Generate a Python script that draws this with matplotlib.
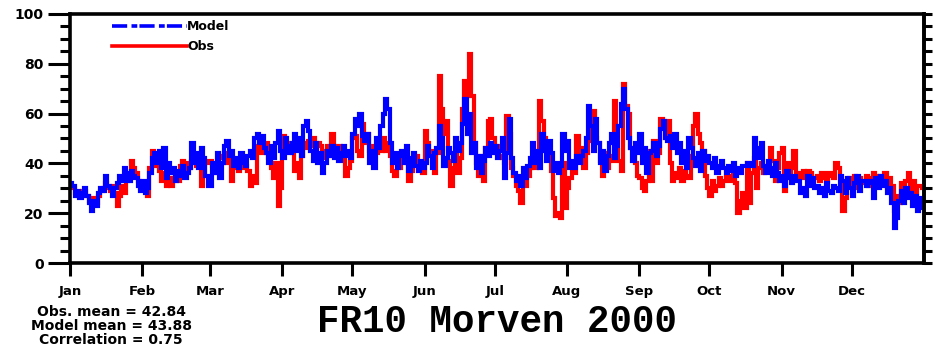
import numpy as np
import matplotlib
matplotlib.use("Agg")
import matplotlib.pyplot as plt
from matplotlib.lines import Line2D

# daily values for 2000 (leap year), one list per month
month_names = ["Jan", "Feb", "Mar", "Apr", "May", "Jun",
               "Jul", "Aug", "Sep", "Oct", "Nov", "Dec"]
month_days = [31, 29, 31, 30, 31, 30, 31, 31, 30, 31, 30, 31]

model = [
    # Jan
    32, 31, 27, 29, 26, 28, 30, 27, 24, 21, 25, 23, 28, 30, 29, 35, 31, 30, 27, 30,
    32, 35, 33, 38, 36, 33, 37, 35, 34, 31, 29,
    # Feb
    33, 28, 30, 36, 42, 44, 40, 45, 38, 46, 34, 40, 36, 38, 33, 37, 35, 39, 34, 36,
    38, 48, 40, 44, 38, 46, 42, 35, 31,
    # Mar
    31, 40, 36, 44, 34, 40, 47, 49, 43, 45, 39, 42, 38, 44, 40, 39, 43, 45, 42, 50,
    52, 48, 51, 46, 44, 40, 47, 42, 48, 53, 45,
    # Apr
    42, 50, 47, 44, 48, 52, 45, 50, 43, 55, 57, 53, 45, 41, 48, 40, 44, 36, 40, 45,
    43, 47, 42, 46, 41, 44, 47, 43, 45, 42,
    # May
    52, 58, 55, 60, 51, 49, 52, 40, 45, 38, 50, 46, 55, 60, 66, 62, 48, 40, 44, 38,
    43, 45, 40, 47, 37, 42, 44, 39, 37, 41, 38,
    # Jun
    40, 47, 43, 38, 44, 46, 55, 50, 39, 42, 46, 44, 41, 50, 45, 48, 56, 66, 52, 60,
    44, 48, 38, 43, 36, 41, 46, 43, 48, 44,
    # Jul
    47, 42, 45, 50, 34, 44, 58, 42, 36, 33, 35, 31, 38, 34, 39, 42, 48, 40, 45, 38,
    52, 45, 41, 49, 44, 37, 40, 36, 39, 52, 45,
    # Aug
    49, 38, 41, 38, 43, 40, 43, 45, 50, 63, 55, 45, 58, 48, 40, 45, 37, 43, 48, 52,
    42, 47, 55, 64, 70, 62, 50, 46, 41, 48, 44,
    # Sep
    52, 40, 46, 36, 44, 45, 48, 43, 47, 54, 57, 50, 49, 51, 46, 52, 44, 48, 40, 45,
    38, 50, 46, 42, 39, 44, 37, 45, 41, 43,
    # Oct
    40, 38, 42, 36, 39, 41, 38, 36, 39, 37, 40, 35, 38, 36, 39, 39, 40, 40, 39, 50,
    46, 42, 48, 39, 36, 41, 38, 35, 40, 36, 33,
    # Nov
    35, 31, 37, 34, 32, 35, 33, 33, 28, 30, 27, 35, 31, 34, 30, 31, 28, 30, 27, 32,
    29, 28, 31, 30, 29, 35, 33, 28, 34, 30,
    # Dec
    27, 32, 35, 29, 33, 33, 31, 32, 33, 26, 34, 30, 35, 31, 33, 28, 30, 24, 14, 18,
    25, 29, 24, 30, 26, 28, 23, 27, 21, 26, 22,
]

obs = [
    # Jan
    31, 30, 28, 28, 27, 29, 29, 27, 25, 24, 26, 24, 27, 29, 30, 32, 30, 29, 31, 28,
    23, 27, 31, 28, 33, 35, 41, 38, 36, 33, 30,
    # Feb
    31, 30, 27, 38, 45, 41, 39, 37, 33, 36, 31, 34, 31, 34, 35, 33, 39, 41, 36, 40,
    38, 41, 40, 39, 41, 31, 35, 40, 41,
    # Mar
    41, 39, 36, 40, 42, 43, 44, 40, 42, 33, 38, 41, 37, 40, 38, 39, 37, 31, 35, 32,
    47, 49, 44, 46, 48, 42, 38, 34, 40, 23, 30,
    # Apr
    51, 47, 45, 48, 44, 37, 40, 34, 43, 46, 48, 49, 47, 50, 46, 48, 47, 42, 45, 47,
    43, 52, 44, 46, 47, 44, 42, 35, 38, 41,
    # May
    50, 51, 45, 43, 56, 48, 52, 45, 44, 47, 44, 46, 45, 50, 45, 48, 43, 37, 35, 41,
    38, 42, 44, 40, 33, 37, 40, 43, 38, 39, 36,
    # Jun
    53, 48, 45, 41, 36, 44, 75, 62, 52, 57, 41, 31, 38, 44, 36, 42, 62, 73, 67, 84,
    67, 48, 40, 35, 43, 33, 46, 57, 58, 50,
    # Jul
    44, 47, 43, 42, 40, 59, 52, 38, 35, 31, 29, 24, 34, 31, 35, 38, 40, 38, 45, 65,
    57, 50, 46, 44, 37, 26, 19, 20, 18, 40, 22,
    # Aug
    30, 34, 37, 36, 51, 42, 46, 38, 44, 49, 55, 61, 50, 48, 41, 35, 44, 38, 43, 41,
    65, 55, 41, 37, 72, 63, 60, 46, 46, 40, 35,
    # Sep
    34, 30, 29, 33, 45, 33, 49, 40, 44, 58, 55, 50, 57, 40, 33, 36, 34, 38, 33, 37,
    35, 34, 43, 55, 60, 52, 48, 45, 35, 30,
    # Oct
    27, 33, 29, 31, 34, 31, 33, 37, 35, 33, 36, 32, 20, 25, 28, 22, 40, 24, 36, 42,
    30, 38, 40, 36, 39, 37, 46, 41, 33, 38, 44,
    # Nov
    46, 29, 40, 34, 38, 45, 35, 36, 34, 37, 35, 37, 36, 33, 34, 35, 33, 36, 34, 33,
    36, 35, 34, 40, 38, 34, 21, 26, 33, 34,
    # Dec
    31, 35, 30, 34, 32, 33, 35, 31, 34, 36, 35, 33, 35, 32, 36, 30, 34, 31, 21, 27,
    24, 32, 30, 33, 36, 29, 33, 28, 31, 31, 30,
]

stats_lines = ["Obs. mean = 42.84", "Model mean = 43.88", "Correlation = 0.75"]
title = "FR10 Morven 2000"

n_days = sum(month_days)
day = np.arange(n_days) + 0.5
month_starts = np.concatenate([[0], np.cumsum(month_days)[:-1]])

fig = plt.figure(figsize=(9.35, 3.57), dpi=100)
ax = fig.add_axes([0.0749, 0.2633, 0.9134, 0.6975])

ax.plot(day, obs, color="#ff0000", lw=3.0, drawstyle="steps-mid", solid_joinstyle="miter")
ax.plot(day, model, color="#0000ff", lw=3.0, drawstyle="steps-mid", solid_joinstyle="miter")

ax.set_xlim(0, n_days)
ax.set_ylim(0, 100)

ax.set_xticks(month_starts)
ax.set_xticklabels(month_names, fontsize=9.5, fontweight="bold")
ax.set_yticks(np.arange(0, 101, 20))
ax.set_yticklabels([str(v) for v in range(0, 101, 20)], fontsize=10, fontweight="bold")
ax.set_yticks(np.arange(0, 101, 5), minor=True)

ax.tick_params(axis="x", direction="out", length=9, width=2.2, pad=7, top=False)
ax.tick_params(axis="y", which="major", direction="out", length=16, width=2.2, pad=3)
ax.tick_params(axis="y", which="minor", direction="out", length=7, width=2.2)

sec = ax.secondary_yaxis("right")
sec.set_yticks(np.arange(0, 101, 5))
sec.set_yticklabels([])
sec.tick_params(direction="out", length=6, width=2.2)
sec.spines["right"].set_linewidth(2.6)

for s in ax.spines.values():
    s.set_linewidth(2.6)

handles = [Line2D([], [], color="#0000ff", lw=2.6, dashes=(4.2, 1.2, 1.6, 0.6)),
           Line2D([], [], color="#ff0000", lw=2.6)]
ax.legend(handles, ["Model", "Obs"], loc="upper left", bbox_to_anchor=(0.049, 0.975),
          frameon=False, handlelength=6.0, handletextpad=0.0, borderpad=0,
          borderaxespad=0, labelspacing=0.55, prop={"weight": "bold", "size": 9})

fig.text(0.119, 0.086, "\n".join(stats_lines), ha="center", va="center",
         multialignment="center", fontsize=10, fontweight="bold", linespacing=1.0)
fig.text(0.532, 0.098, title, ha="center", va="center",
         family="Liberation Mono", fontweight="bold", fontsize=27)

fig.savefig("out.png", dpi=100)
